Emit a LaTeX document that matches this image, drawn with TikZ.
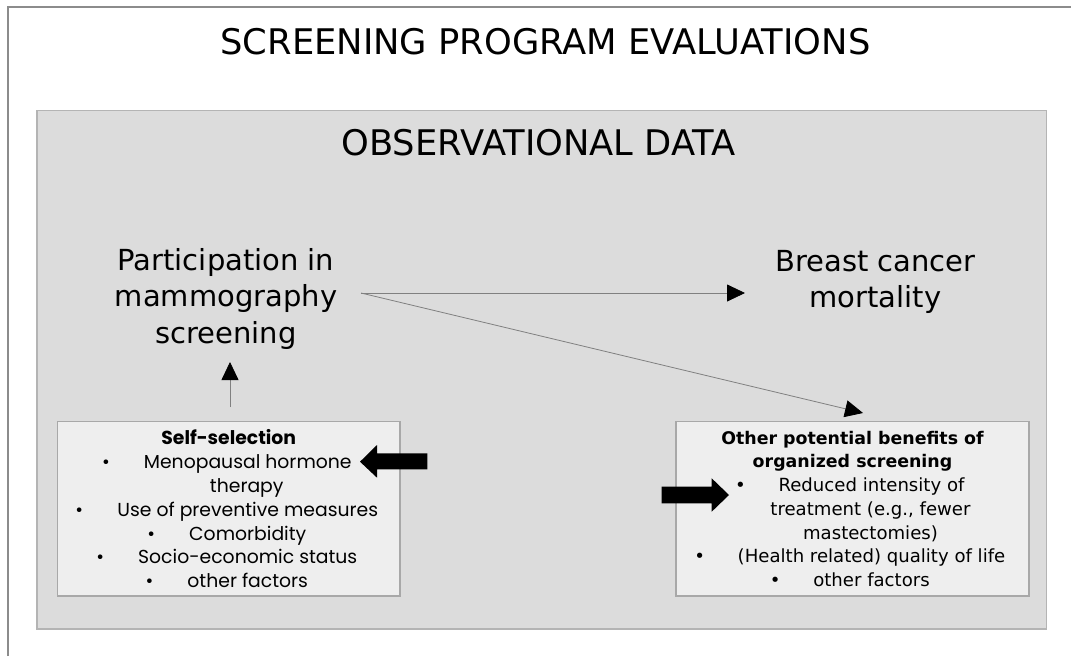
\documentclass[tikz,border=0pt]{standalone}
\usepackage{fontspec}
\setmainfont{DejaVu Sans}
\newfontfamily\popfont{Poppins}
\usetikzlibrary{arrows.meta}
\definecolor{panelgray}{HTML}{DCDCDC}
\definecolor{panelline}{HTML}{B4B4B4}
\definecolor{boxfill}{HTML}{EEEEEE}
\definecolor{boxline}{HTML}{A8A8A8}
\definecolor{frameline}{HTML}{8C8C8C}
\definecolor{thinline}{HTML}{808080}
\newcommand\bul[1]{\makebox[0pt]{\textbullet}\hspace{38pt}#1}
\newcommand\cont[1]{\hspace*{36pt}#1}
\newcommand\boldhead[1]{{\bfseries\fontsize{17.4}{23.7}\selectfont #1}}
\begin{document}
\begin{tikzpicture}[x=1pt,y=-1pt,
  head/.style={line width=0.8pt, draw=thinline, -{Triangle[length=18pt,width=17pt,color=black]}},
  heading/.style={font=\fontsize{29}{36.2}\selectfont, align=center, inner sep=0pt},
  bigtitle/.style={font=\fontsize{35.3}{42}\selectfont, inner sep=0pt, anchor=base},
  listbox/.style={draw=boxline, line width=1.2pt, fill=boxfill, inner sep=0pt, align=center},
  blockarrow/.style={fill=black},
]
\useasboundingbox (0,0) rectangle (1071,656);
\draw[frameline, line width=2pt] (7.5,656) -- (7.5,6.5) -- (1071,6.5);
\node (panel) [draw=panelline, fill=panelgray, line width=1.5pt, minimum width=1009.5pt, minimum height=518.5pt, inner sep=0pt] at (541.75,369.75) {};
\node (title) [bigtitle] at (545.5,54) {SCREENING PROGRAM EVALUATIONS};
\node (obs) [bigtitle] at (538.5,155) {OBSERVATIONAL DATA};
\node (part) [heading, anchor=base] at (226,343) {Participation in\\mammography\\screening};
\node (mort) [heading, anchor=base] at (875.5,307.3) {Breast cancer\\mortality};
\node (selfsel) [listbox, minimum width=342.5pt, minimum height=174.3pt, font=\popfont\fontsize{18.8}{23.8}\selectfont] at (228.75,508.85)
  {{\bfseries Self-selection}\\
   \bul{Menopausal hormone}\\
   \cont{therapy}\\
   \bul{Use of preventive measures}\\
   \bul{Comorbidity}\\
   \bul{Socio-economic status}\\
   \bul{other factors}};
\node (benefit) [listbox, minimum width=353pt, minimum height=174.3pt, font=\fontsize{18.1}{23.7}\selectfont] at (852.5,508.85)
  {\boldhead{Other potential benefits of}\\
   \boldhead{organized screening}\\
   \bul{Reduced intensity of}\\
   \cont{treatment (e.g., fewer}\\
   \cont{mastectomies)}\\
   \bul{(Health related) quality of life}\\
   \bul{other factors}};
\coordinate (pa) at (361,293);
\coordinate (mo) at (745,293);
\coordinate (ob) at (863,413);
\coordinate (ss) at (230,407);
\coordinate (pb) at (230,362);
\draw[head] (pa) -- (mo);
\draw[head] (pa) -- (ob);
\draw[head] (ss) -- (pb);
\fill[blockarrow] (360,461.7) -- (377,445) -- (377,453.3) -- (427.3,453.3) -- (427.3,469.3) -- (377,469.3) -- (377,477.7) -- cycle;
\fill[blockarrow] (729,495) -- (711.7,478.3) -- (711.7,486.7) -- (661.7,486.7) -- (661.7,503.3) -- (711.7,503.3) -- (711.7,511.7) -- cycle;
\end{tikzpicture}
\end{document}
